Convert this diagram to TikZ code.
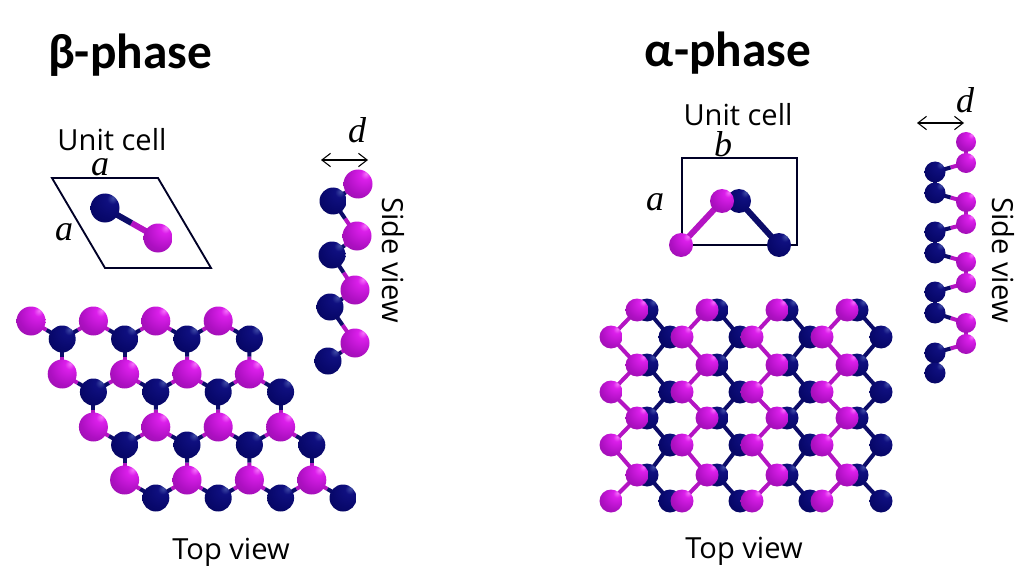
\documentclass[tikz,border=0pt]{standalone}
\usepackage{fontspec}
\setmainfont{Open Sans}
\newfontfamily\titlef{Carlito}
\newfontfamily\varf{Liberation Serif}
\usetikzlibrary{calc,backgrounds,arrows.meta}
\pgfdeclareradialshading{pballs}{\pgfpoint{14bp}{18bp}}{rgb(0bp)=(0.96,0.45,0.98); rgb(8bp)=(0.86,0.12,0.92); rgb(30bp)=(0.68,0.06,0.76); rgb(55bp)=(0.52,0.08,0.60); rgb(80bp)=(0.42,0.08,0.50)}
\pgfdeclareradialshading{nballs}{\pgfpoint{14bp}{18bp}}{rgb(0bp)=(0.25,0.3,0.65); rgb(9bp)=(0.06,0.06,0.5); rgb(30bp)=(0.03,0.03,0.42); rgb(55bp)=(0.02,0.02,0.33); rgb(80bp)=(0.02,0.02,0.28)}
\definecolor{pbondc}{RGB}{180,20,195}
\definecolor{nbondc}{RGB}{12,12,105}
\tikzset{
  x=0.75pt,y=-0.75pt,
  patom/.style={circle,inner sep=0pt,minimum size=#1*0.75pt,shading=pballs},
  natom/.style={circle,inner sep=0pt,minimum size=#1*0.75pt,shading=nballs},
  pbond/.style={draw=pbondc,line width=3pt},
  nbond/.style={draw=nbondc,line width=3pt},
  thickbond/.style={line width=4.5pt},
  cellbox/.style={draw=black!85!blue,line width=1.4pt},
  lab/.style={inner sep=0pt,font=\fontsize{21.8}{25}\selectfont},
  ttl/.style={inner sep=0pt,font=\titlef\bfseries\fontsize{37}{42}\selectfont},
  var/.style={inner sep=0pt,font=\varf\itshape\fontsize{27}{30}\selectfont},
  dimarrow/.style={{Straight Barb[length=6.5pt,width=10pt]}-{Straight Barb[length=6.5pt,width=10pt]},line width=0.8pt},
}
\newcommand{\hb}[3][]{%
  \path[#1] (#2.center) -- ($(#2)!.5!(#3)$) coordinate (hbm);
  \draw[pbond,#1] (#2.center) -- (hbm);
  \draw[nbond,#1] (#3.center) -- (hbm);}
\begin{document}
\begin{tikzpicture}
\useasboundingbox (0,0) rectangle (1024,574);
% Titles and labels
\node[ttl] (t1) at (130,55) {β-phase};
\node[ttl] (t2) at (728,53) {α-phase};
\node[lab] (u1) at (112,140) {Unit cell};
\node[lab] (u2) at (738,115) {Unit cell};
\node[lab] (tv1) at (231,552) {Top view};
\node[lab] (tv2) at (744,551) {Top view};
\node[lab,rotate=-90] (sv1) at (393,260) {Side view};
\node[lab,rotate=-90] (sv2) at (1003,260) {Side view};
\node[var] (la1) at (100,167) {a};
\node[var] (la2) at (64,232) {a};
\node[var] (ld1) at (357,130) {d};
\node[var] (lb) at (723,144) {b};
\node[var] (la3) at (655,202) {a};
\node[var] (ld2) at (965,100) {d};
\coordinate (d1a) at (321,160); \coordinate (d1b) at (368,160);
\coordinate (d2a) at (917,123); \coordinate (d2b) at (964,123);
\draw[dimarrow] (d1a) -- (d1b);
\draw[dimarrow] (d2a) -- (d2b);
% Beta unit cell
\coordinate (c1) at (52,178); \coordinate (c2) at (158,178);
\coordinate (c3) at (211,268); \coordinate (c4) at (105,268);
\draw[cellbox] (c1) -- (c2) -- (c3) -- (c4) -- cycle;
\node[natom=29] (bc-n) at (105,208) {};
\node[patom=29] (bc-p) at (158,238) {};
% Beta side view
\foreach \n/\x/\y in {1/333/201,2/332/255,3/330/307,4/328/361}
  \node[natom=27] (bs-n-\n) at (\x,\y) {};
\foreach \n/\x/\y in {1/358/184,2/357/236,3/355/290,4/355/343}
  \node[patom=29] (bs-p-\n) at (\x,\y) {};
% Beta top view
\foreach \r/\yp/\yn in {1/321/339,2/374/392,3/427/445,4/480/498}
  \foreach \i in {1,...,4}{
    \pgfmathsetmacro{\xp}{31+62.4*(\i-1)+31.2*(\r-1)}
    \pgfmathsetmacro{\xn}{\xp+31.2}
    \node[natom=27] (bn-\r-\i) at (\xn,\yn) {};
    \node[patom=29] (bp-\r-\i) at (\xp,\yp) {};
  }
% Alpha unit cell
\coordinate (e1) at (682,158); \coordinate (e2) at (797,158);
\coordinate (e3) at (797,245); \coordinate (e4) at (682,245);
\begin{scope}[on background layer]
  \draw[cellbox] (e1) -- (e2) -- (e3) -- (e4) -- cycle;
\end{scope}
\node[natom=24] (ac-n1) at (739,201) {};
\node[natom=24] (ac-n2) at (779,245) {};
\node[patom=24] (ac-p1) at (722,201) {};
\node[patom=24] (ac-p2) at (681,245) {};
% Alpha side view
\foreach \n/\y in {1/172,2/193,3/232,4/253,5/292,6/313,7/353,8/373}
  \node[natom=21] (as-n-\n) at (935,\y) {};
\foreach \n/\y in {1/142,2/163,3/202,4/224,5/262,6/283,7/323,8/344}
  \node[patom=20] (as-p-\n) at (966,\y) {};
% Alpha top view
\foreach \r/\ya/\yb in {1/310/337,2/365/392,3/418/445,4/475/501}{
  \foreach \j/\xa/\xb in {1/647/670,2/717/740,3/787/810,4/857/881}{
    \node[natom=23] (na-\j-\r) at (\xa,\ya) {};
    \node[natom=23] (nb-\j-\r) at (\xb,\yb) {};
  }
  \foreach \j/\xa/\xb in {1/637/611,2/707/682,3/777/752,4/847/822}{
    \node[patom=23] (pa-\j-\r) at (\xa,\ya) {};
    \node[patom=23] (pb-\j-\r) at (\xb,\yb) {};
  }
}
\begin{scope}[on background layer]
  % Beta lattice bonds
  \foreach \r in {1,...,4}{
    \foreach \i in {1,...,4}{
      \hb{bp-\r-\i}{bn-\r-\i}
    }
    \foreach \i/\k in {1/2,2/3,3/4}{
      \hb{bp-\r-\k}{bn-\r-\i}
    }
  }
  \foreach \r/\q in {1/2,2/3,3/4}
    \foreach \i in {1,...,4}{
      \hb{bp-\q-\i}{bn-\r-\i}
    }
  \hb[thickbond]{bc-p}{bc-n}
  % Beta side chain
  \foreach \n in {1,...,4}{\hb{bs-p-\n}{bs-n-\n}}
  \foreach \n/\m in {1/2,2/3,3/4}{\hb{bs-p-\m}{bs-n-\n}}
  % Alpha lattice bonds
  \foreach \j in {1,...,4}{
    \foreach \r in {1,...,4}{
      \draw[pbond] (pa-\j-\r.center) -- (pb-\j-\r.center);
      \draw[nbond] (na-\j-\r.center) -- (nb-\j-\r.center);
    }
    \foreach \r/\q in {2/1,3/2,4/3}{
      \draw[pbond] (pa-\j-\r.center) -- (pb-\j-\q.center);
      \draw[nbond] (na-\j-\r.center) -- (nb-\j-\q.center);
    }
  }
  % Alpha side chain
  \foreach \a/\b in {1/2,3/4,5/6,7/8}{
    \draw[pbond] (as-p-\a.center) -- (as-p-\b.center);
    \draw[nbond] (as-n-\a.center) -- (as-n-\b.center);
  }
  \hb{as-p-2}{as-n-1}
  \hb{as-p-3}{as-n-2}
  \hb{as-p-4}{as-n-3}
  \hb{as-p-5}{as-n-4}
  \hb{as-p-6}{as-n-5}
  \hb{as-p-7}{as-n-6}
  \hb{as-p-8}{as-n-7}
  % Alpha unit cell bonds
  \draw[pbond,thickbond] (ac-p1.center) -- (ac-p2.center);
  \draw[nbond,thickbond] (ac-n1.center) -- (ac-n2.center);
\end{scope}
\end{tikzpicture}
\end{document}
